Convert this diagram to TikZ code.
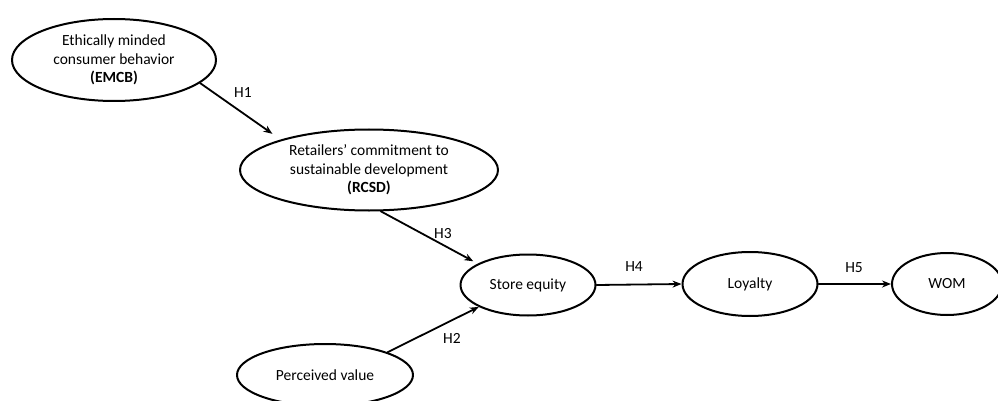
\documentclass[tikz,border=0pt]{standalone}
\usepackage{fontspec}
\setmainfont{Carlito}
\usetikzlibrary{shapes.geometric,arrows.meta}
\tikzset{
	construct/.style={ellipse,draw,line width=2pt,inner sep=0pt,align=center,font=\fontsize{15.5}{18.5}\selectfont},
	hyp/.style={font=\fontsize{15.5}{18.5}\selectfont}
}
\begin{document}
\begin{tikzpicture}[line cap=round,line join=round,>={Stealth[length=9pt,width=7pt]},x=1pt,y=-1pt]
		\useasboundingbox (0,0) rectangle (998,401);
		\node[construct,minimum width=204,minimum height=82] (emcb) at (114,60) {Ethically minded\\consumer behavior\\\textbf{(EMCB)}};
		\node[construct,minimum width=258,minimum height=81] (rcsd) at (369,170) {Retailers’ commitment to\\sustainable development\\\textbf{(RCSD)}};
		\node[construct,minimum width=135,minimum height=61] (seq) at (528,285) {Store equity};
		\node[construct,minimum width=176,minimum height=62] (pv) at (325,375) {Perceived value};
		\node[construct,minimum width=135,minimum height=64] (loy) at (750,284) {Loyalty};
		\node[construct,minimum width=110,minimum height=62] (wom) at (947,284) {WOM};
		\draw[->,line width=1.8pt,shorten >=10pt] (emcb.-15)--(rcsd.161);
		\draw[->,line width=1.8pt,shorten >=5pt] (rcsd.-74)--(seq.157);
		\draw[->,line width=1.8pt] (pv.20)--(seq.-156);
		\draw[->,line width=1.8pt] (seq.east)--(loy.west);
		\draw[->,line width=1.8pt] (loy.east)--(wom.west);
		\node[hyp] (lh1) at (243,93) {H1};
		\node[hyp] (lh3) at (443,234) {H3};
		\node[hyp] (lh2) at (452,338) {H2};
		\node[hyp] (lh4) at (634,267) {H4};
		\node[hyp] (lh5) at (854,268) {H5};
		\end{tikzpicture}
\end{document}
